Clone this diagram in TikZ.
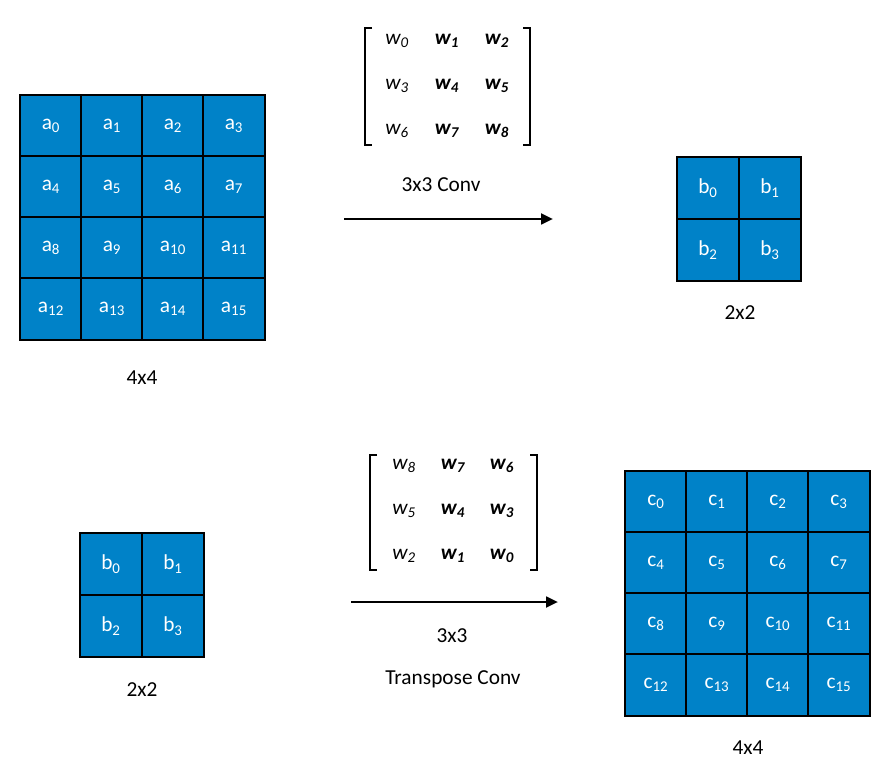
\documentclass[tikz,border=0pt]{standalone}
\usepackage{fontspec}
\setmainfont{Carlito}
\usetikzlibrary{positioning,arrows.meta}
\definecolor{cellblue}{RGB}{0,130,200}
\tikzset{
    cell/.style={draw, fill=cellblue, text=white, minimum size=46pt,
                 line width=1.5pt, inner sep=0pt, font=\fontsize{16}{18}\selectfont},
    caption/.style={font=\fontsize{16}{19}\selectfont},
    wgt/.style={font=\fontsize{16}{19}\selectfont\itshape},
    wbold/.style={font=\fontsize{16}{19}\selectfont\bfseries\itshape},
    bracket/.style={line width=1.2pt}
}
\begin{document}
\begin{tikzpicture}[x=0.75pt,y=-0.75pt]
    \useasboundingbox (0,0) rectangle (895,777);

    % Input 4x4
    \foreach \i in {0,...,15} {
        \pgfmathtruncatemacro\col{mod(\i,4)}
        \pgfmathtruncatemacro\row{div(\i,4)}
        \node[cell] (a\i) at (51+61*\col,126+61*\row) {a\textsubscript{\i}};
    }
    \node[caption] (lblA) at (142,378) {4x4};

    % Output 2x2
    \foreach \i in {0,...,3} {
        \pgfmathtruncatemacro\col{mod(\i,2)}
        \pgfmathtruncatemacro\row{div(\i,2)}
        \node[cell] (b\i) at (708+62*\col,188+62*\row) {b\textsubscript{\i}};
    }
    \node[caption] (lblB) at (740,313) {2x2};

    % Kernel
    \draw[bracket] (372,28) -- (365,28) -- (365,145) -- (372,145);
    \draw[bracket] (523,28) -- (530,28) -- (530,145) -- (523,145);
    \node[wgt] at (397,41) {w\textsubscript{0}};
    \node[wbold] at (447,41) {w\textsubscript{1}};
    \node[wbold] at (497,41) {w\textsubscript{2}};
    \node[wgt] at (397,86) {w\textsubscript{3}};
    \node[wbold] at (447,86) {w\textsubscript{4}};
    \node[wbold] at (497,86) {w\textsubscript{5}};
    \node[wgt] at (397,131) {w\textsubscript{6}};
    \node[wbold] at (447,131) {w\textsubscript{7}};
    \node[wbold] at (497,131) {w\textsubscript{8}};
    \node[caption] (conv) at (441,185) {3x3 Conv};
    \coordinate (convS) at (344,219);
    \coordinate (convE) at (553,219);
    \draw[-{Triangle[length=9pt,width=8pt]}, line width=2pt] (convS) -- (convE);

    % Input 2x2
    \foreach \i in {0,...,3} {
        \pgfmathtruncatemacro\col{mod(\i,2)}
        \pgfmathtruncatemacro\row{div(\i,2)}
        \node[cell] (d\i) at (111+62*\col,564+62*\row) {b\textsubscript{\i}};
    }
    \node[caption] (lblD) at (142,690) {2x2};

    % Transposed kernel
    \draw[bracket] (377,455) -- (370,455) -- (370,570) -- (377,570);
    \draw[bracket] (530,455) -- (537,455) -- (537,570) -- (530,570);
    \node[wgt] at (404,466) {w\textsubscript{8}};
    \node[wbold] at (453,466) {w\textsubscript{7}};
    \node[wbold] at (502,466) {w\textsubscript{6}};
    \node[wgt] at (404,511) {w\textsubscript{5}};
    \node[wbold] at (453,511) {w\textsubscript{4}};
    \node[wbold] at (502,511) {w\textsubscript{3}};
    \node[wgt] at (404,556) {w\textsubscript{2}};
    \node[wbold] at (453,556) {w\textsubscript{1}};
    \node[wbold] at (502,556) {w\textsubscript{0}};
    \coordinate (tconvS) at (351,602);
    \coordinate (tconvE) at (558,602);
    \draw[-{Triangle[length=9pt,width=8pt]}, line width=2pt] (tconvS) -- (tconvE);
    \node[caption] (tconv) at (452,636) {3x3};
    \node[caption] (tconv2) at (453,679) {Transpose Conv};

    % Output 4x4
    \foreach \i in {0,...,15} {
        \pgfmathtruncatemacro\col{mod(\i,4)}
        \pgfmathtruncatemacro\row{div(\i,4)}
        \node[cell] (c\i) at (656+61*\col,502+61*\row) {c\textsubscript{\i}};
    }
    \node[caption] (lblC) at (748,748) {4x4};
\end{tikzpicture}
\end{document}
